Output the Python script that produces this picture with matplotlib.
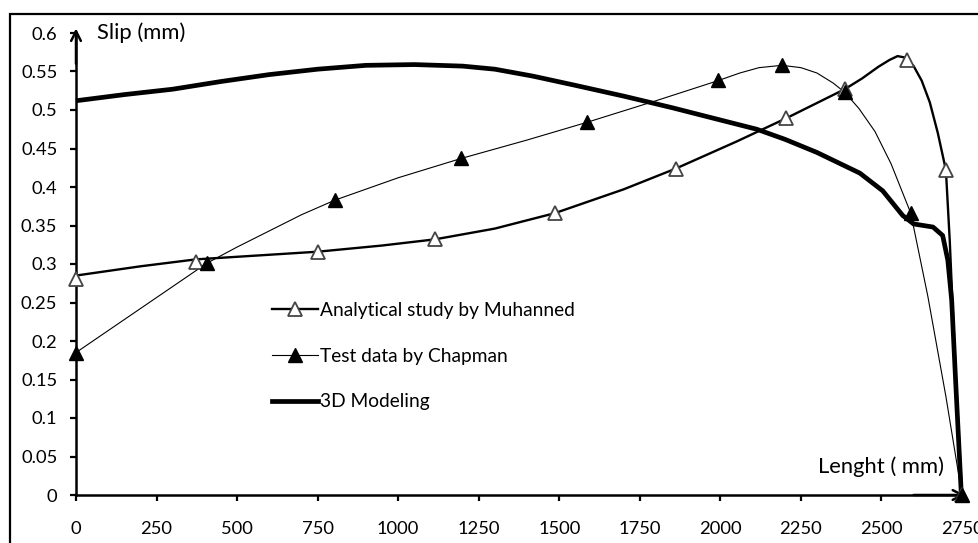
import matplotlib
matplotlib.use("Agg")
import matplotlib.pyplot as plt
from matplotlib.patches import Rectangle

plt.rcParams['font.family'] = ['Lato', 'DejaVu Sans']

# ---- data ----
# Analytical study by Muhanned (open triangles)
ana_x = [0, 372, 751, 1114, 1486, 1862, 2203, 2386, 2580, 2700, 2750]
ana_y = [0.281, 0.303, 0.316, 0.332, 0.366, 0.424, 0.489, 0.527, 0.565, 0.422, 0.0]
ana_curve_x = [0, 200, 372, 600, 751, 950, 1114, 1300, 1486, 1700, 1862, 2050, 2203,
               2386, 2440, 2490, 2525, 2550, 2575, 2600, 2625, 2650, 2675, 2700,
               2712, 2720, 2735, 2750]
ana_curve_y = [0.285, 0.297, 0.306, 0.312, 0.316, 0.324, 0.332, 0.346, 0.366, 0.397,
               0.424, 0.459, 0.489, 0.527, 0.541, 0.556, 0.565, 0.570, 0.568, 0.557,
               0.538, 0.51, 0.47, 0.422, 0.33, 0.253, 0.12, 0.0]

# Test data by Chapman (filled triangles)
cha_x = [0, 406, 804, 1195, 1586, 1992, 2191, 2386, 2591, 2750]
cha_y = [0.185, 0.301, 0.383, 0.438, 0.484, 0.539, 0.558, 0.523, 0.366, 0.0]
cha_curve_x = [0, 406, 500, 600, 700, 804, 1000, 1195, 1400, 1586, 1800, 1992, 2060,
               2120, 2191, 2250, 2300, 2350, 2386, 2430, 2480, 2530, 2591, 2644, 2700, 2750]
cha_curve_y = [0.185, 0.301, 0.322, 0.343, 0.364, 0.383, 0.412, 0.437, 0.461, 0.484,
               0.512, 0.538, 0.548, 0.555, 0.558, 0.555, 0.548, 0.535, 0.523, 0.502,
               0.472, 0.43, 0.366, 0.258, 0.128, 0.0]

# 3D Modeling (thick line)
mod_x = [0, 150, 300, 450, 600, 750, 900, 1050, 1200, 1300, 1418, 1550, 1700, 1850,
         2000, 2113, 2200, 2299, 2433, 2504, 2566, 2600, 2660, 2690, 2706, 2718, 2730, 2748]
mod_y = [0.512, 0.52, 0.527, 0.537, 0.546, 0.553, 0.558, 0.559, 0.557, 0.553, 0.544,
         0.532, 0.518, 0.503, 0.487, 0.475, 0.462, 0.445, 0.418, 0.395, 0.363, 0.352,
         0.348, 0.337, 0.305, 0.253, 0.15, 0.0]

labels = ["Analytical study by Muhanned", "Test data by Chapman", "3D Modeling"]
x_ticks = list(range(0, 2751, 250))
y_ticks = [0, 0.05, 0.1, 0.15, 0.2, 0.25, 0.3, 0.35, 0.4, 0.45, 0.5, 0.55, 0.6]
y_tick_labels = ["0", "0.05", "0.1", "0.15", "0.2", "0.25", "0.3", "0.35", "0.4",
                 "0.45", "0.5", "0.55", "0.6"]

W, H = 979, 543
fig = plt.figure(figsize=(W / 100, H / 100), dpi=100)
ax = fig.add_axes([76 / W, 1 - 495 / H, (962 - 76) / W, (495 - 33) / H])

# outer frame
fig.patches.append(Rectangle((10 / W, -0.2), 1.5, 1.2 - 14 / H,
                             transform=fig.transFigure, fill=False,
                             edgecolor='black', linewidth=1.6))

# curves
ax.plot(mod_x, mod_y, color='black', lw=3.4, solid_capstyle='butt', clip_on=False, zorder=3)
ax.plot(ana_curve_x, ana_curve_y, color='black', lw=1.7, clip_on=False, zorder=3)
ax.plot(cha_curve_x, cha_curve_y, color='black', lw=0.8, clip_on=False, zorder=3)
ax.plot(ana_x, ana_y, linestyle='none', marker='^', ms=10, mfc='white',
        mec='#444444', mew=1.3, clip_on=False, zorder=4)
ax.plot(cha_x, cha_y, linestyle='none', marker='^', ms=10, mfc='black',
        mec='black', mew=1.0, clip_on=False, zorder=4)

# legend proxies
h1, = ax.plot([], [], color='black', lw=1.7, marker='^', ms=10, mfc='white', mec='#444444', mew=1.3)
h2, = ax.plot([], [], color='black', lw=0.8, marker='^', ms=10, mfc='black', mec='black')
h3, = ax.plot([], [], color='black', lw=3.4)
leg = ax.legend([h1, h2, h3], labels, loc='upper left',
                bbox_to_anchor=(272 / W, 1 - 302 / H), bbox_transform=fig.transFigure,
                frameon=False, fontsize=13.8, handlelength=2.4, handletextpad=0.12,
                labelspacing=1.5, borderpad=0, borderaxespad=0, numpoints=1)

ax.set_xlim(0, 2750)
ax.set_ylim(0, 0.6)
ax.set_xticks(x_ticks)
ax.set_xticklabels([str(v) for v in x_ticks])
ax.set_yticks(y_ticks)
ax.set_yticklabels(y_tick_labels)
for s in ['top', 'right']:
    ax.spines[s].set_visible(False)
for s in ['left', 'bottom']:
    ax.spines[s].set_linewidth(1.8)
ax.tick_params(axis='both', direction='out', length=4.5, width=1.6, labelsize=13.2,
               colors='black')
ax.tick_params(axis='x', pad=14)
ax.tick_params(axis='y', pad=9)

# arrowheads at axis ends
ax.annotate('', xy=(0, 0.606), xytext=(0, 0.56), xycoords='data',
            arrowprops=dict(arrowstyle='->,head_width=0.35,head_length=0.7', lw=1.8,
                            color='black', shrinkA=0, shrinkB=0), annotation_clip=False)
ax.annotate('', xy=(2760, 0), xytext=(2600, 0), xycoords='data',
            arrowprops=dict(arrowstyle='->,head_width=0.35,head_length=0.7', lw=1.8,
                            color='black', shrinkA=0, shrinkB=0), annotation_clip=False)

fig.text(97 / W, 1 - 33 / H, "Slip (mm)", fontsize=15.8, ha='left', va='center')
fig.text(944 / W, 1 - 467 / H, "Lenght ( mm)", fontsize=15.8, ha='right', va='center')

fig.savefig("out.png", dpi=100)
